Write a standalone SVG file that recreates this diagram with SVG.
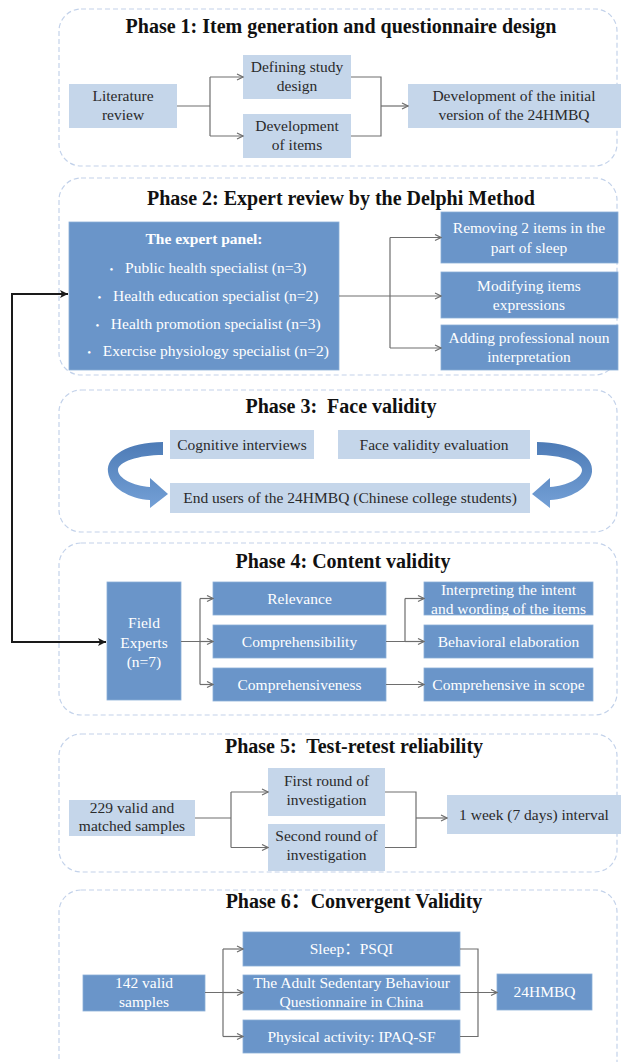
<svg xmlns="http://www.w3.org/2000/svg" width="625" height="1062" viewBox="0 0 625 1062">
<style>
text{font-family:"Liberation Serif","Times New Roman","Noto Sans CJK SC",serif;text-anchor:middle;}
.ph{fill:none;stroke:#c3d2ea;stroke-width:1.2;stroke-dasharray:5 3;}
.tt{font-size:20px;font-weight:bold;fill:#111;}
.lb{fill:#c5d6ea;}
.md{fill:#6a95c9;stroke:#8aaed8;stroke-width:0.8;}
.tl{font-size:15.5px;fill:#2a2a2a;}
.tw{font-size:15.5px;fill:#fff;}
.cn{fill:none;stroke:#6e6e6e;stroke-width:1.2;}
.ck{fill:none;stroke:#1a1a1a;stroke-width:2;}
.ca{fill:url(#cg);}
</style>
<defs>
<marker id="ah" viewBox="0 0 8 8" refX="7.5" refY="4" markerWidth="8" markerHeight="8" markerUnits="userSpaceOnUse" orient="auto"><path d="M1.5,1 L7.5,4 L1.5,7" fill="none" stroke="#6e6e6e" stroke-width="1.2"/></marker>
<marker id="ahk" viewBox="0 0 9 9" refX="8.5" refY="4.5" markerWidth="9" markerHeight="9" markerUnits="userSpaceOnUse" orient="auto"><path d="M0.5,0.5 L8.5,4.5 L0.5,8.5 L2.5,4.5 Z" fill="#1a1a1a"/></marker>
<linearGradient id="cg" x1="0" y1="0" x2="0" y2="1"><stop offset="0" stop-color="#4d7bb6"/><stop offset="1" stop-color="#74a0d6"/></linearGradient>
</defs>

<g id="phase1">
<rect class="ph" x="59" y="9" width="558" height="157" rx="22"/>
<text class="tt" x="341" y="33">Phase 1: Item generation and questionnaire design</text>
</g>
<g id="n-literature"><rect class="lb" x="69" y="84" width="108" height="44"/><text class="tl" x="123" y="101">Literature</text><text class="tl" x="123" y="120">review</text></g>
<g id="n-defining"><rect class="lb" x="243" y="55" width="108" height="44"/><text class="tl" x="297" y="72">Defining study</text><text class="tl" x="297" y="91">design</text></g>
<g id="n-devitems"><rect class="lb" x="243" y="114" width="108" height="44"/><text class="tl" x="297" y="131">Development</text><text class="tl" x="297" y="150">of items</text></g>
<g id="n-initial"><rect class="lb" x="408" y="84" width="213" height="44"/><text class="tl" x="514" y="101">Development of the initial</text><text class="tl" x="514" y="120">version of the 24HMBQ</text></g>

<g id="phase2">
<rect class="ph" x="59" y="178" width="558" height="197" rx="22"/>
<text class="tt" x="341" y="205">Phase 2: Expert review by the Delphi Method</text>
</g>
<g id="n-panel"><rect class="md" x="69" y="222" width="270" height="148"/>
<text class="tw" x="204" y="244" font-weight="bold">The expert panel:</text>
<text class="tw" x="208" y="273" xml:space="preserve"><tspan font-size="11">•</tspan>   Public health specialist (n=3)</text>
<text class="tw" x="208" y="301" xml:space="preserve"><tspan font-size="11">•</tspan>   Health education specialist (n=2)</text>
<text class="tw" x="208" y="329" xml:space="preserve"><tspan font-size="11">•</tspan>   Health promotion specialist (n=3)</text>
<text class="tw" x="208" y="356" xml:space="preserve"><tspan font-size="11">•</tspan>   Exercise physiology specialist (n=2)</text>
</g>
<g id="n-removing"><rect class="md" x="441" y="212" width="177" height="51"/><text class="tw" x="529" y="233">Removing 2 items in the</text><text class="tw" x="529" y="253">part of sleep</text></g>
<g id="n-modifying"><rect class="md" x="441" y="272" width="177" height="46"/><text class="tw" x="529" y="291">Modifying items</text><text class="tw" x="529" y="310">expressions</text></g>
<g id="n-adding"><rect class="md" x="441" y="325" width="177" height="45"/><text class="tw" x="529" y="343">Adding professional noun</text><text class="tw" x="529" y="362">interpretation</text></g>

<g id="phase3">
<rect class="ph" x="59" y="390" width="558" height="142" rx="22"/>
<text class="tt" x="341" y="413" xml:space="preserve">Phase 3:  Face validity</text>
</g>
<g id="n-cognitive"><rect class="lb" x="170" y="430" width="144" height="29"/><text class="tl" x="242" y="450">Cognitive interviews</text></g>
<g id="n-facevalidity"><rect class="lb" x="338" y="430" width="192" height="29"/><text class="tl" x="434" y="450">Face validity evaluation</text></g>
<g id="n-endusers"><rect class="lb" x="170" y="483" width="360" height="30"/><text class="tl" x="350" y="503">End users of the 24HMBQ (Chinese college students)</text></g>

<g id="phase4">
<rect class="ph" x="59" y="543" width="558" height="172" rx="22"/>
<text class="tt" x="343" y="568">Phase 4: Content validity</text>
</g>
<g id="n-field"><rect class="md" x="107" y="582" width="74" height="118"/><text class="tw" x="144" y="628">Field</text><text class="tw" x="144" y="648">Experts</text><text class="tw" x="144" y="667">(n=7)</text></g>
<g id="n-relevance"><rect class="md" x="213" y="582" width="173" height="33"/><text class="tw" x="299.5" y="604">Relevance</text></g>
<g id="n-comprehensibility"><rect class="md" x="213" y="625" width="173" height="33"/><text class="tw" x="299.5" y="647">Comprehensibility</text></g>
<g id="n-comprehensiveness"><rect class="md" x="213" y="668" width="173" height="33"/><text class="tw" x="299.5" y="690">Comprehensiveness</text></g>
<g id="n-interpreting"><rect class="md" x="424" y="582" width="169" height="33"/><text class="tw" x="508.5" y="595">Interpreting the intent</text><text class="tw" x="508.5" y="614">and wording of the items</text></g>
<g id="n-behavioral"><rect class="md" x="424" y="625" width="169" height="33"/><text class="tw" x="508.5" y="647">Behavioral elaboration</text></g>
<g id="n-scope"><rect class="md" x="424" y="668" width="169" height="33"/><text class="tw" x="508.5" y="690">Comprehensive in scope</text></g>

<g id="phase5">
<rect class="ph" x="59" y="734" width="558" height="138" rx="22"/>
<text class="tt" x="354" y="753" xml:space="preserve">Phase 5:  Test-retest reliability</text>
</g>
<g id="n-229"><rect class="lb" x="69" y="800" width="126" height="36"/><text class="tl" x="132" y="813">229 valid and</text><text class="tl" x="132" y="831">matched samples</text></g>
<g id="n-first"><rect class="lb" x="268" y="768" width="117" height="48"/><text class="tl" x="326.5" y="786">First round of</text><text class="tl" x="326.5" y="805">investigation</text></g>
<g id="n-second"><rect class="lb" x="268" y="824" width="117" height="47"/><text class="tl" x="326.5" y="841">Second round of</text><text class="tl" x="326.5" y="860">investigation</text></g>
<g id="n-week"><rect class="lb" x="447" y="795" width="174" height="39"/><text class="tl" x="534" y="820">1 week (7 days) interval</text></g>

<g id="phase6">
<rect class="ph" x="59" y="890" width="558" height="200" rx="22"/>
<text class="tt" x="354" y="908">Phase 6：Convergent Validity</text>
</g>
<g id="n-142"><rect class="md" x="83" y="975" width="122" height="36"/><text class="tw" x="144" y="988">142 valid</text><text class="tw" x="144" y="1007">samples</text></g>
<g id="n-sleep"><rect class="md" x="243" y="932" width="217" height="34"/><text class="tw" x="351.5" y="954">Sleep：PSQI</text></g>
<g id="n-adult"><rect class="md" x="243" y="975" width="217" height="35"/><text class="tw" x="351.5" y="988">The Adult Sedentary Behaviour</text><text class="tw" x="351.5" y="1007">Questionnaire in China</text></g>
<g id="n-physical"><rect class="md" x="243" y="1020" width="217" height="33"/><text class="tw" x="351.5" y="1042">Physical activity: IPAQ-SF</text></g>
<g id="n-24hmbq"><rect class="md" x="497" y="974" width="95" height="36"/><text class="tw" x="544.5" y="997">24HMBQ</text></g>

<g id="connectors">
<path class="cn" d="M177,106 H210 M210,77 V136 M351,77 H381 V136 H351"/>
<path class="cn" d="M210,77 H243" marker-end="url(#ah)"/>
<path class="cn" d="M210,136 H243" marker-end="url(#ah)"/>
<path class="cn" d="M381,106 H408" marker-end="url(#ah)"/>

<path class="cn" d="M339,296 H390 M390,237.5 V348"/>
<path class="cn" d="M390,237.5 H441" marker-end="url(#ah)"/>
<path class="cn" d="M390,296 H441" marker-end="url(#ah)"/>
<path class="cn" d="M390,348 H441" marker-end="url(#ah)"/>

<path class="ca" d="M163,442 C128,442 106,456 108,472 C110,488 130,499 150,500 L150,508 L168,494 L150,478 L150,487 C133,486 118,478 118,470 C118,462 138,455 163,455 Z"/>
<path class="ca" transform="translate(700,0) scale(-1,1)" d="M163,442 C128,442 106,456 108,472 C110,488 130,499 150,500 L150,508 L168,494 L150,478 L150,487 C133,486 118,478 118,470 C118,462 138,455 163,455 Z"/>

<path class="ck" d="M12,643 V294 H68" marker-end="url(#ahk)"/>
<path class="ck" d="M12,642 H106" marker-end="url(#ahk)"/>

<path class="cn" d="M181,641.5 H200 M200,598.5 V684.5 M386,641.5 H405 V598.5"/>
<path class="cn" d="M200,598.5 H213" marker-end="url(#ah)"/>
<path class="cn" d="M200,641.5 H213" marker-end="url(#ah)"/>
<path class="cn" d="M200,684.5 H213" marker-end="url(#ah)"/>
<path class="cn" d="M405,598.5 H424" marker-end="url(#ah)"/>
<path class="cn" d="M405,641.5 H424" marker-end="url(#ah)"/>
<path class="cn" d="M386,684.5 H424" marker-end="url(#ah)"/>

<path class="cn" d="M195,818 H231 M231,792 V847.5 M385,792 H416 V847.5 H385"/>
<path class="cn" d="M231,792 H268" marker-end="url(#ah)"/>
<path class="cn" d="M231,847.5 H268" marker-end="url(#ah)"/>
<path class="cn" d="M416,818 H447" marker-end="url(#ah)"/>

<path class="cn" d="M205,992.5 H223 M223,949 V1036.5 M460,949 H478 V1036.5 H460"/>
<path class="cn" d="M223,949 H243" marker-end="url(#ah)"/>
<path class="cn" d="M223,992.5 H243" marker-end="url(#ah)"/>
<path class="cn" d="M223,1036.5 H243" marker-end="url(#ah)"/>
<path class="cn" d="M460,992.5 H497" marker-end="url(#ah)"/>
</g>
</svg>
